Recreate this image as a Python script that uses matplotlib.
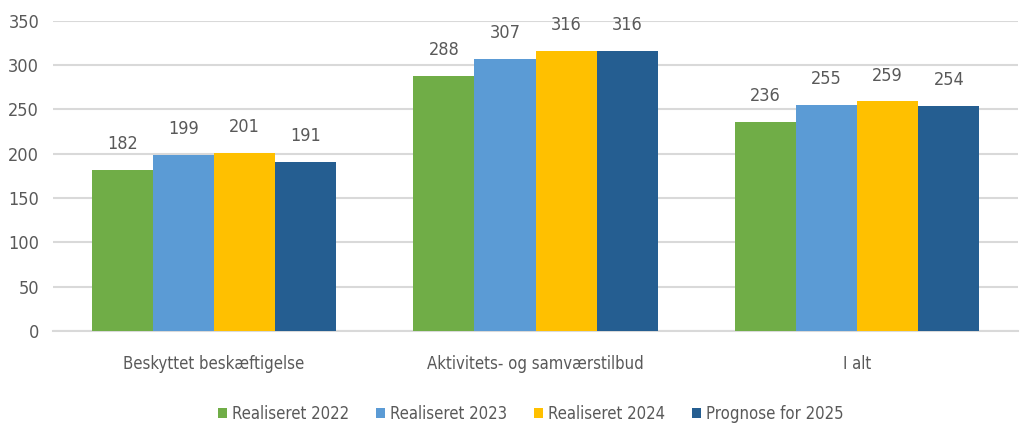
import numpy as np
import matplotlib.pyplot as plt

categories = ['Beskyttet beskæftigelse', 'Aktivitets- og samværstilbud', 'I alt']
series = ['Realiseret 2022', 'Realiseret 2023', 'Realiseret 2024', 'Prognose for 2025']
values = [
    [182, 288, 236],
    [199, 307, 255],
    [201, 316, 259],
    [191, 316, 254],
]
colors = ['#70AD47', '#5B9BD5', '#FFC000', '#255E91']

plt.rcParams['font.family'] = ['DejaVu Sans']
plt.rcParams['font.stretch'] = 'condensed'
txt = '#595959'

fig = plt.figure(figsize=(10.21, 4.25), dpi=100)
ax = fig.add_axes([0.052, 0.221, 0.945, 0.730])

x = np.arange(len(categories))
w = 0.19
for i, (name, vals, c) in enumerate(zip(series, values, colors)):
    pos = x + (i - 1.5) * w
    bars = ax.bar(pos, vals, width=w, color=c, label=name, zorder=3)
    for b, v in zip(bars, vals):
        ax.annotate(str(v), (b.get_x() + b.get_width() / 2, v), xytext=(0, 12),
                    textcoords='offset points', ha='center', va='bottom',
                    fontsize=13, color=txt)

ax.set_xlim(-0.5, 2.5)
ax.set_ylim(0, 350)
ax.set_yticks(range(0, 351, 50))
ax.set_xticks(x)
ax.set_xticklabels(categories, fontsize=12)
ax.tick_params(axis='both', length=0, labelcolor=txt)
ax.tick_params(axis='y', labelsize=13, pad=10)
ax.tick_params(axis='x', pad=17)
ax.grid(axis='y', color='#D9D9D9', linewidth=1.5, zorder=0)
for s in ['top', 'right', 'left']:
    ax.spines[s].set_visible(False)
ax.spines['bottom'].set_color('#D9D9D9')
ax.spines['bottom'].set_linewidth(1.5)

leg = fig.legend(loc='lower center', bbox_to_anchor=(0.52, -0.03), ncol=4, frameon=False,
                 fontsize=12, handlelength=0.55, handleheight=0.55, handletextpad=0.3,
                 columnspacing=1.6)
for t in leg.get_texts():
    t.set_color(txt)

fig.savefig('out.png', dpi=100)
